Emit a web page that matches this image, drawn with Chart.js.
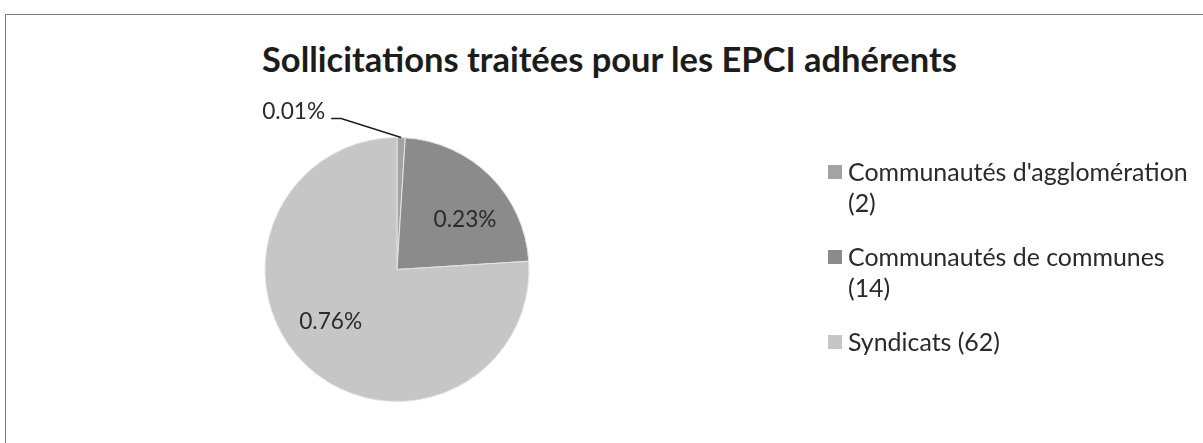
<!DOCTYPE html>
<html lang="fr">
<head>
<meta charset="utf-8">
<title>Sollicitations traitées pour les EPCI adhérents</title>
<script src="https://cdn.jsdelivr.net/npm/chart.js@4/dist/chart.umd.min.js"></script>
<style>
  html, body { margin: 0; padding: 0; background: #fff; }
  body { width: 1203px; height: 443px; position: relative; overflow: hidden; font-family: Lato, "Open Sans", sans-serif; }
  #frame { position: absolute; left: 5px; top: 14px; width: 1300px; height: 600px; border-left: 1px solid #7a7a7a; border-top: 1px solid #7a7a7a; }
  #title { position: absolute; left: 262px; top: 40px; white-space: nowrap; font-weight: bold; color: #1c1c1c; }
  #wrap { position: absolute; left: 0; top: 0; width: 1203px; height: 443px; }
  #legend { position: absolute; left: 828px; top: 156px; margin: 0; padding: 0; list-style: none; line-height: 31px; color: #2a2a2a; }
  #legend li { display: flex; align-items: flex-start; margin-bottom: 23px; }
  #legend .box { width: 14px; height: 14px; margin-top: 9px; margin-right: 6px; flex: none; }
  #legend .txt { width: 350px; }
</style>
</head>
<body>
<div id="frame"></div>
<div id="title">Sollicitations traitées pour les EPCI adhérents</div>
<div id="wrap"><canvas id="pieChart"></canvas></div>
<ul id="legend"></ul>
<script>
var categories = ["Communautés d'agglomération", "Communautés de communes", "Syndicats"];
var counts = [2, 14, 62];
var shares = [0.01, 0.23, 0.76];
var sliceColors = ["#a3a3a3", "#8b8b8b", "#c6c6c6"];

var FAMILY = "Lato, 'Open Sans', sans-serif";
var measureCtx = document.createElement("canvas").getContext("2d");

// font size that makes text this wide (the source used Calibri, Lato runs wider)
function fitSize(text, weight, width) {
  measureCtx.font = weight + " 100px " + FAMILY;
  return (100 * width) / measureCtx.measureText(text).width;
}

function labelFor(i) {
  return categories[i] + " (" + counts[i] + ")";
}

function placeTitle(el) {
  if (!el) return;
  var size = fitSize(el.textContent, "bold", 696);
  measureCtx.font = "bold " + size + "px " + FAMILY;
  var m = measureCtx.measureText(el.textContent);
  var asc = m.fontBoundingBoxAscent, desc = m.fontBoundingBoxDescent;
  el.style.fontSize = size + "px";
  el.style.lineHeight = asc + desc + "px";
  el.style.top = 72 - asc + "px";
}

function buildLegend(el) {
  if (!el) return;
  el.style.fontSize = fitSize(categories[0], "normal", 340) + "px";
  categories.forEach(function (c, i) {
    var li = document.createElement("li");
    var box = document.createElement("span");
    box.className = "box";
    box.style.background = sliceColors[i];
    var txt = document.createElement("span");
    txt.className = "txt";
    txt.textContent = labelFor(i);
    li.appendChild(box);
    li.appendChild(txt);
    el.appendChild(li);
  });
}

// percentage labels, small slices go outside with a leader line
var sliceLabels = {
  id: "sliceLabels",
  afterDatasetsDraw: function (chart, args, opts) {
    var ctx = chart.ctx;
    var meta = chart.getDatasetMeta(0);
    var values = chart.data.datasets[0].data;
    ctx.save();
    ctx.font = opts.fontSize + "px " + FAMILY;
    ctx.fillStyle = "#2b2b2b";
    ctx.textBaseline = "middle";
    meta.data.forEach(function (arc, i) {
      var p = arc.getProps(["x", "y", "startAngle", "endAngle", "outerRadius"], true);
      var mid = (p.startAngle + p.endAngle) / 2;
      var text = values[i].toFixed(2) + "%";
      if (values[i] < 0.05) {
        var ex = p.x + Math.cos(mid) * p.outerRadius;
        var ey = p.y + Math.sin(mid) * p.outerRadius;
        var kx = ex - 60, ky = ey - 19;
        ctx.strokeStyle = "#1e1e1e";
        ctx.lineWidth = 1.5;
        ctx.beginPath();
        ctx.moveTo(ex, ey);
        ctx.lineTo(kx, ky);
        ctx.lineTo(kx - 10, ky);
        ctx.stroke();
        ctx.textAlign = "right";
        ctx.fillText(text, kx - 16, ky - 7);
      } else {
        var a = mid + opts.turn;
        var r = p.outerRadius * opts.radial;
        ctx.textAlign = "center";
        ctx.fillText(text, p.x + Math.cos(a) * r, p.y + Math.sin(a) * r);
      }
    });
    ctx.restore();
  },
};

document.addEventListener("DOMContentLoaded", function () {
  placeTitle(document.getElementById("title"));
  buildLegend(document.getElementById("legend"));
  var canvas = document.getElementById("pieChart");
  if (!canvas) return;
  new Chart(canvas.getContext("2d"), {
    type: "pie",
    data: {
      labels: categories.map(function (c, i) {
        return labelFor(i);
      }),
      datasets: [
        {
          data: shares,
          backgroundColor: sliceColors,
          borderColor: "#e4e4e4",
          borderWidth: 1,
        },
      ],
    },
    options: {
      responsive: true,
      maintainAspectRatio: false,
      animation: false,
      layout: { padding: { left: 264, right: 673, top: 137, bottom: 41 } },
      plugins: {
        legend: { display: false },
        title: { display: false },
        tooltip: { enabled: false },
        sliceLabels: { fontSize: fitSize("0.23%", "normal", 63), radial: 0.64, turn: 0.15 },
      },
    },
    plugins: [sliceLabels],
  });
});
</script>
</body>
</html>
